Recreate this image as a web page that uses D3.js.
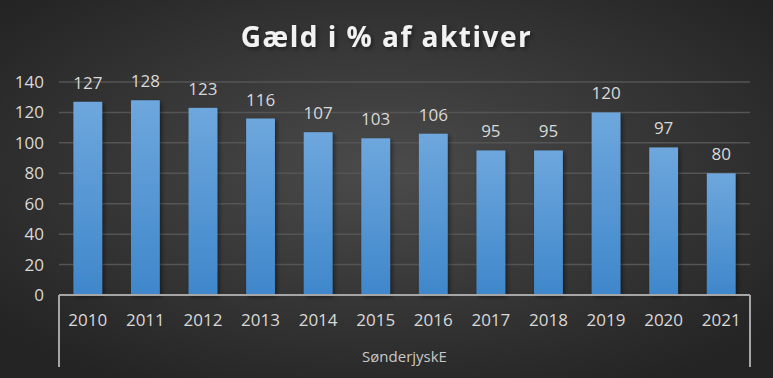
<!DOCTYPE html>
<head>
  <meta charset='utf-8'>
  <title>Gæld i % af aktiver</title>
  <script src="https://cdnjs.cloudflare.com/ajax/libs/d3/7.8.5/d3.min.js"></script>
  <style>
    body { margin: 0; background: #2b2b2b; }
    svg text { font-family: "Open Sans", "Noto Sans", sans-serif; fill: #d9d9d9; }
    .title { font-size: 28px; font-weight: bold; fill: #f2f2f2; letter-spacing: 1.5px; }
  </style>
</head>
<body>
  <div id="chart"></div>
  <script>
    var years = ["2010", "2011", "2012", "2013", "2014", "2015", "2016", "2017", "2018", "2019", "2020", "2021"];
    var values = [127, 128, 123, 116, 107, 103, 106, 95, 95, 120, 97, 80];
    var yTicks = [0, 20, 40, 60, 80, 100, 120, 140];
    var groupLabel = "SønderjyskE";

    var width = 773, height = 378;
    var plotLeft = 59, plotRight = 750, plotTop = 82, plotBottom = 295;

    var svg = d3.select("#chart").append("svg")
        .attr("width", width)
        .attr("height", height);

    var defs = svg.append("defs");
    var bg = defs.append("radialGradient").attr("id", "bg")
        .attr("cx", "50%").attr("cy", "45%").attr("r", "65%");
    bg.append("stop").attr("offset", "0%").attr("stop-color", "#4b4b4b");
    bg.append("stop").attr("offset", "100%").attr("stop-color", "#242424");

    var barGrad = defs.append("linearGradient").attr("id", "bar")
        .attr("x1", 0).attr("y1", 0).attr("x2", 0).attr("y2", 1);
    barGrad.append("stop").attr("offset", "0%").attr("stop-color", "#6ea7dd");
    barGrad.append("stop").attr("offset", "100%").attr("stop-color", "#3f87cb");

    var shadow = defs.append("filter").attr("id", "shadow")
        .attr("x", "-20%").attr("y", "-20%").attr("width", "150%").attr("height", "150%");
    shadow.append("feDropShadow").attr("dx", 2).attr("dy", 2)
        .attr("stdDeviation", 2).attr("flood-color", "#000").attr("flood-opacity", 0.45);

    svg.append("rect").attr("width", width).attr("height", height).attr("fill", "url(#bg)");

    var x = d3.scaleBand().domain(years).range([plotLeft, plotRight])
        .paddingInner(0.5).paddingOuter(0.25);
    var y = d3.scaleLinear().domain([0, 140]).range([plotBottom, plotTop]);

    // gridlines
    svg.append("g").selectAll("line")
        .data(yTicks.filter(function(d) { return d > 0; }))
      .enter().append("line")
        .attr("x1", plotLeft).attr("x2", plotRight)
        .attr("y1", function(d) { return y(d); })
        .attr("y2", function(d) { return y(d); })
        .attr("stroke", "#555")
        .attr("stroke-width", 1.5);

    // y labels
    svg.append("g").selectAll("text")
        .data(yTicks)
      .enter().append("text")
        .attr("x", 44)
        .attr("y", function(d) { return y(d); })
        .attr("dy", "0.35em")
        .attr("text-anchor", "end")
        .style("font-size", "17px")
        .text(function(d) { return d; });

    // bars
    svg.append("g").selectAll("rect")
        .data(values)
      .enter().append("rect")
        .attr("x", function(d, i) { return x(years[i]); })
        .attr("y", function(d) { return y(d); })
        .attr("width", x.bandwidth())
        .attr("height", function(d) { return plotBottom - y(d); })
        .attr("fill", "url(#bar)")
        .attr("filter", "url(#shadow)");

    // value labels
    svg.append("g").selectAll("text")
        .data(values)
      .enter().append("text")
        .attr("x", function(d, i) { return x(years[i]) + x.bandwidth() / 2; })
        .attr("y", function(d) { return y(d) - 13; })
        .attr("text-anchor", "middle")
        .style("font-size", "17px")
        .text(function(d) { return d; });

    // category axis
    var axis = svg.append("g").attr("stroke", "#a6a6a6").attr("stroke-width", 2);
    axis.append("line").attr("x1", plotLeft).attr("x2", plotRight).attr("y1", plotBottom).attr("y2", plotBottom);
    axis.append("line").attr("x1", plotLeft).attr("x2", plotLeft).attr("y1", plotBottom).attr("y2", 367);
    axis.append("line").attr("x1", plotRight).attr("x2", plotRight).attr("y1", plotBottom).attr("y2", 367);

    svg.append("g").selectAll("text")
        .data(years)
      .enter().append("text")
        .attr("x", function(d) { return x(d) + x.bandwidth() / 2; })
        .attr("y", 326)
        .attr("text-anchor", "middle")
        .style("font-size", "17px")
        .text(function(d) { return d; });

    svg.append("text")
        .attr("x", (plotLeft + plotRight) / 2)
        .attr("y", 362)
        .attr("text-anchor", "middle")
        .style("font-size", "15px")
        .style("fill", "#c8c8c8")
        .text(groupLabel);

    svg.append("text")
        .attr("class", "title")
        .attr("x", width / 2)
        .attr("y", 47)
        .attr("text-anchor", "middle")
        .attr("filter", "url(#shadow)")
        .text("Gæld i % af aktiver");
  </script>
</body>
